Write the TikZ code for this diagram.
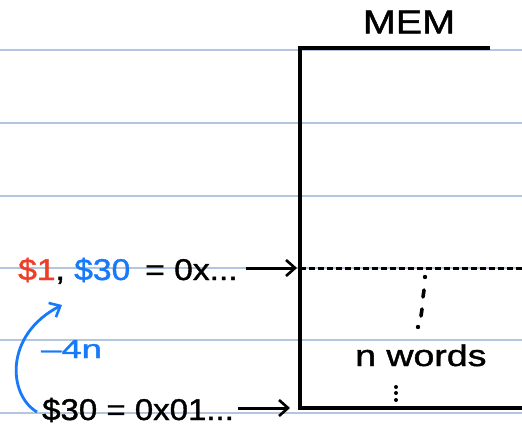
\documentclass[tikz,border=0pt]{standalone}
\usepackage{fontspec}
\setmainfont{Liberation Sans}
\newfontfamily\handfont{Liberation Sans}[FakeBold=1.2]
\usetikzlibrary{arrows.meta}
\definecolor{paperline}{RGB}{180,198,222}
\definecolor{inkred}{RGB}{238,62,40}
\definecolor{inkblue}{RGB}{22,122,250}
\newcommand{\hwide}[2][1.25]{\scalebox{#1}[1]{#2}}
\tikzset{
  paper/.style={draw=paperline, line width=1.2pt},
  ink/.style={draw=black, line width=3.2pt},
  hand/.style={inner sep=0pt, font=\handfont\fontsize{30}{32}\selectfont},
  pointer/.style={draw=black, line width=3pt, -{Straight Barb[length=9pt,width=16pt,line width=2.6pt]}},
  bluearrow/.style={draw=inkblue, line width=2.8pt, -{Straight Barb[length=9pt,width=16pt,line width=2.6pt]}},
  inkdot/.style={fill=black}
}
\begin{document}
\begin{tikzpicture}[x=1pt,y=-1pt]
\useasboundingbox (0,0) rectangle (522,425);
\fill[white] (0,0) rectangle (522,425);
% ruled paper
\foreach \yy in {50,123,196,268,340,413} \draw[paper] (0,\yy) -- (522,\yy);
% memory box
\coordinate (boxtr) at (490,48);
\coordinate (boxtl) at (300,48);
\coordinate (boxbl) at (300,408);
\coordinate (boxbr) at (522,408);
\draw[ink, line join=miter] (boxtr) -- (boxtl) -- (boxbl) -- (boxbr);
\coordinate (dashl) at (300,268);
\coordinate (dashr) at (522,268);
\draw[draw=black, line width=3pt, dash pattern=on 6pt off 3pt] (dashl) -- (dashr);
% title
\node[hand, font=\handfont\fontsize{33}{35}\selectfont] (mem) at (409,22) {\hwide[1.2]{MEM}};
% top pointer label
\node[hand, anchor=base west] (regs) at (18,280) {\hwide[1.12]{\textcolor{inkred}{\$1}, \textcolor{inkblue}{\$30} \,= 0x...}};
\coordinate (toptarget) at (297,268);
\draw[pointer] ([xshift=8pt]regs.east |- toptarget) -- (toptarget);
% bottom pointer label
\node[hand, anchor=base west] (base) at (42,420) {\hwide[1.1]{\$30 = 0x01...}};
\coordinate (bottarget) at (290,408);
\draw[pointer] ([xshift=4pt]base.east |- bottarget) -- (bottarget);
% offset
\node[hand, anchor=base west, text=inkblue, font=\handfont\fontsize{26}{28}\selectfont] (offs) at (41,358) {\hwide[1.4]{\textendash 4n}};
\coordinate (curvestart) at (37,412);
\coordinate (curveend) at (62,305);
\draw[bluearrow] (curvestart) .. controls (8,395) and (4,335) .. (curveend);
% n words
\node[hand, anchor=base west] (nwords) at (355,366) {\hwide[1.25]{n words}};
% vertical ellipsis marks
\fill[inkdot] (425,277) circle (2.2pt);
\draw[draw=black, line width=3.6pt, line cap=round] (424,290) -- (423,297);
\draw[draw=black, line width=3.6pt, line cap=round] (422,309) -- (421,316);
\fill[inkdot] (418,327) circle (2.2pt);
\fill[inkdot] (396,387) circle (2pt);
\fill[inkdot] (396,393) circle (2pt);
\fill[inkdot] (396,400) circle (2pt);
\end{tikzpicture}
\end{document}
